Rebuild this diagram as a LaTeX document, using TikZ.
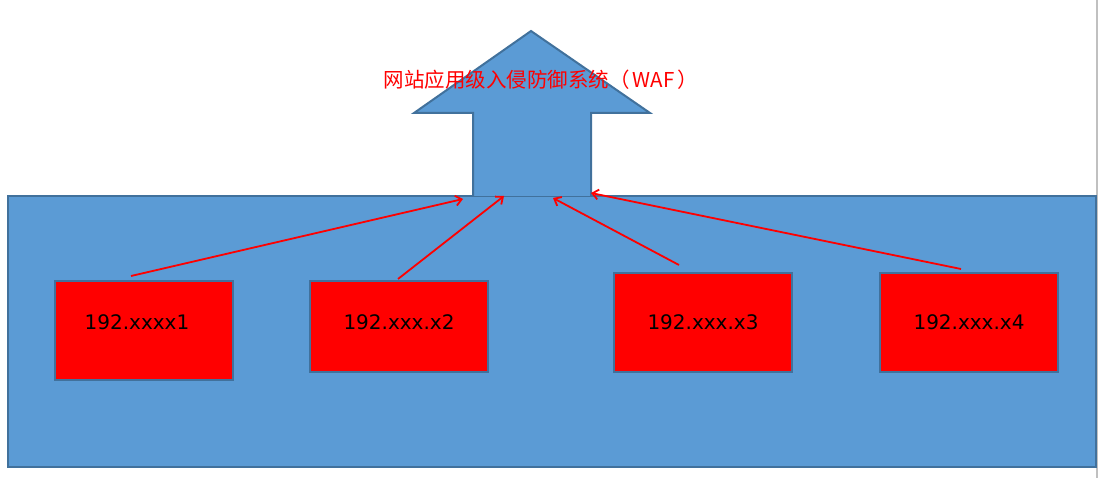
\documentclass[tikz,border=0pt]{standalone}
\usepackage{fontspec}
\setmainfont{DejaVu Sans}
\newfontfamily\cjk{Noto Sans CJK SC}
\usetikzlibrary{arrows.meta}
\definecolor{fillblue}{HTML}{5B9BD5}
\definecolor{edgeblue}{HTML}{41719C}
\definecolor{sidegray}{HTML}{C0C0C0}
\tikzset{
  bluepart/.style={fill=fillblue, draw=edgeblue, line width=2pt},
  hostbox/.style={fill=red, draw=edgeblue, line width=2pt, minimum width=178pt, minimum height=#1, inner sep=0pt, font=\fontsize{20}{24}\selectfont, text=black},
  link/.style={draw=red, line width=1.8pt, -{Straight Barb[length=6pt,width=10pt]}}
}
\begin{document}
\begin{tikzpicture}[x=1pt,y=-1pt]
\useasboundingbox (0,0) rectangle (1098,478);
\draw[sidegray, line width=2pt] (1097,0) -- (1097,478);
\draw[bluepart] (8,196) rectangle (1096,467);
\draw[bluepart] (473,196) -- (473,113) -- (414,113) -- (531,31) -- (650,113) -- (591,113) -- (591,196);
\node[text=red, font=\cjk\fontsize{20.5}{24}\selectfont] (title) at (541,80) {网站应用级入侵防御系统（\hspace{3pt}WAF\hspace{3pt}）};
\node[hostbox=99pt] (h1) at (144,330.5) {\raisebox{17pt}{\hspace*{-14pt}192.xxxx1}};
\node[hostbox=91pt] (h2) at (399,326.5) {\raisebox{9pt}{192.xxx.x2}};
\node[hostbox=99pt] (h3) at (703,322.5) {192.xxx.x3};
\node[hostbox=99pt] (h4) at (969,322.5) {192.xxx.x4};
\coordinate (e1) at (463,199);
\coordinate (e2) at (504,196);
\coordinate (e3) at (553,198);
\coordinate (e4) at (591,193);
\draw[link] ([shift={(-13,-4)}]h1.north) -- (e1);
\draw[link] ([shift={(-1,-1)}]h2.north) -- (e2);
\draw[link] ([shift={(-24,-7)}]h3.north) -- (e3);
\draw[link] ([shift={(-8,-3)}]h4.north) -- (e4);
\end{tikzpicture}
\end{document}
